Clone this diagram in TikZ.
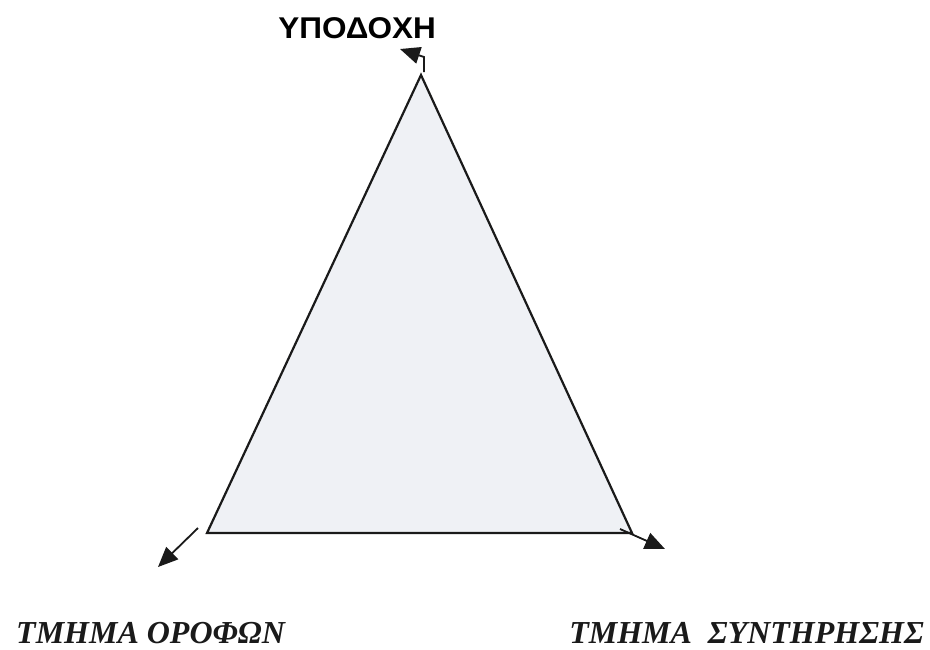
\documentclass[tikz,border=0pt]{standalone}
\usepackage{fontspec}
\setmainfont{Liberation Serif}
\newfontfamily\headfont{Liberation Sans}
\usetikzlibrary{arrows.meta}
\definecolor{trifill}{HTML}{EFF1F5}
\definecolor{inkline}{HTML}{1A1A1A}

\begin{document}
\begin{tikzpicture}[x=1pt, y=-1pt,
        tri/.style={draw=inkline, fill=trifill, line width=2.2pt, line join=miter},
        arrow/.style={-{Triangle[length=20pt, width=17pt]}, draw=inkline, line width=1.8pt},
        toplabel/.style={font=\headfont\bfseries\fontsize{30}{34}\selectfont, xscale=1.05, inner sep=0pt},
        deptlabel/.style={font=\bfseries\itshape\fontsize{32}{36}\selectfont, text=inkline, inner sep=0pt}]
        \useasboundingbox[fill=white] (0,0) rectangle (930,649);

        % corners of the triangle
        \coordinate (apex) at (421,75);
        \coordinate (left) at (207,533);
        \coordinate (right) at (632,533);
        \draw[tri] (apex) -- (right) -- (left) -- cycle;

        % labels
        \node[toplabel, anchor=base east] (reception) at (436,38) {ΥΠΟΔΟΧΗ};
        \node[deptlabel, anchor=base west] (floors) at (16,643) {ΤΜΗΜΑ ΟΡΟΦΩΝ};
        \node[deptlabel, anchor=base east] (maint) at (924,643) {ΤΜΗΜΑ \ ΣΥΝΤΗΡΗΣΗΣ};

        % arrow ends
        \coordinate (topfoot) at (424,72);
        \coordinate (topbend) at (424,57);
        \coordinate (toptip) at (400,49);
        \coordinate (leftfoot) at (198,528);
        \coordinate (lefttip) at (158,567);
        \coordinate (rightfoot) at (620,529);
        \coordinate (righttip) at (665,549);

        \draw[arrow] (topfoot) -- (topbend) -- (toptip);
        \draw[arrow] (leftfoot) -- (lefttip);
        \draw[arrow] (rightfoot) -- (righttip);
      \end{tikzpicture}
\end{document}
